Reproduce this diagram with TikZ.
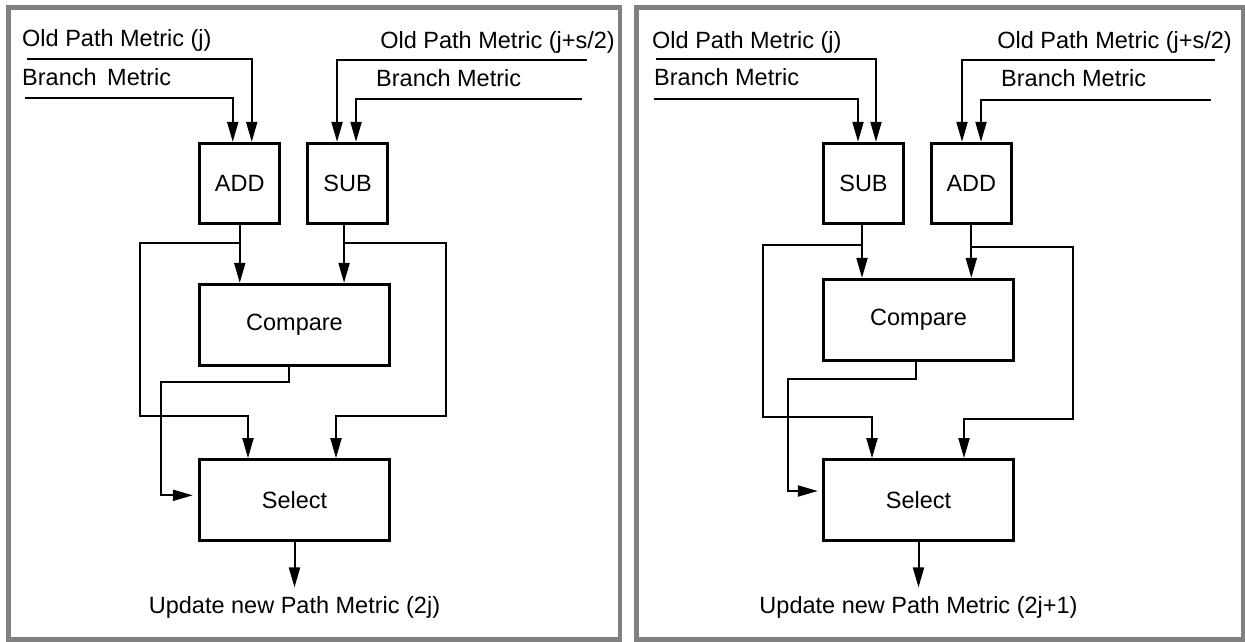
\documentclass[tikz,border=0pt]{standalone}
\usepackage{fontspec}
\setmainfont{Liberation Sans}
\usetikzlibrary{positioning,arrows.meta}
\definecolor{panelgray}{RGB}{128,128,128}

\begin{document}
\begin{tikzpicture}[
    x=1pt, y=-1pt,
    font=\fontsize{23.5}{28}\selectfont,
    box/.style={draw, line width=3.3pt, minimum width=80pt, minimum height=80pt, inner sep=0pt},
    wide/.style={box, minimum width=190pt, minimum height=81pt},
    arr/.style={-{Triangle[length=20pt, width=11pt]}, line width=2pt},
    panel/.style={draw=panelgray, line width=4.8pt},
    txt/.style={inner sep=0pt, anchor=base west},
]
\useasboundingbox (0,0) rectangle (1245,641);

% Panel frames
\draw[panel] (8.3,7.5) rectangle (620,639.5);
\draw[panel] (636.5,7.5) rectangle (1243,639.5);

% Left panel: blocks
\node[box] (addL) at (239.75,183.5) {ADD};
\node[box, right=24.5pt of addL] (subL) {SUB};
\node[wide] (cmpL) at (294.5,325) {Compare};
\node[wide, below=91pt of cmpL] (selL) {Select};
\node[inner sep=0pt, below=54pt of selL] (outL) {Update new Path Metric (2j)};

% Left panel: inputs
\node[txt] (pjL) at (22,46.5) {Old Path Metric (j)};
\node[txt] (bmL) at (22,85) {Branch\hspace{4pt} Metric};
\node[txt, anchor=base east] (psL) at (615,48) {Old Path Metric (j+s/2)};
\node[txt] (bmsL) at (376,86) {Branch Metric};
\coordinate (pjLin) at (27,59);
\coordinate (bmLin) at (24.5,98);
\coordinate (psLin) at (587,60);
\coordinate (bmsLin) at (582,99);
\draw[arr] (pjLin) -| ([xshift=12pt]addL.north);
\draw[arr] (bmLin) -| ([xshift=-7pt]addL.north);
\draw[arr] (psLin) -| ([xshift=-10.5pt]subL.north);
\draw[arr] (bmsLin) -| ([xshift=8.5pt]subL.north);

% Left panel: data paths
\coordinate (lfL) at (140,416);
\coordinate (rtL) at (446,416);
\coordinate (cbL) at (161,382);
\draw[arr] (addL.south) -- (addL.south |- cmpL.north);
\draw[arr] ([xshift=-3.5pt]subL.south) -- ([xshift=-3.5pt]subL.south |- cmpL.north);
\draw[arr] ([yshift=-18pt]addL.south) -| (lfL) -| ([xshift=-46.5pt]selL.north);
\draw[arr] ([xshift=-3.5pt, yshift=-18pt]subL.south) -| (rtL) -| ([xshift=41.5pt]selL.north);
\draw[arr, shorten >=5pt] ([xshift=-5.5pt]cmpL.south) |- (cbL) |- ([yshift=5pt]selL.west);
\draw[arr, shorten >=9pt] (selL) -- (outL);

% Right panel: blocks
\node[box] (subR) at (863.5,183.5) {SUB};
\node[box, right=24.5pt of subR] (addR) {ADD};
\node[wide] (cmpR) at (918.5,320) {Compare};
\node[wide, below=96pt of cmpR] (selR) {Select};
\node[inner sep=0pt, below=54pt of selR] (outR) {Update new Path Metric (2j+1)};

% Right panel: inputs
\node[txt] (pjR) at (652,48) {Old Path Metric (j)};
\node[txt] (bmR) at (654,85) {Branch Metric};
\node[txt, anchor=base east] (psR) at (1232,48) {Old Path Metric (j+s/2)};
\node[txt] (bmsR) at (1001,86) {Branch Metric};
\coordinate (pjRin) at (656,59);
\coordinate (bmRin) at (654,99);
\coordinate (psRin) at (1215,60);
\coordinate (bmsRin) at (1211,100);
\draw[arr] (pjRin) -| ([xshift=12.5pt]subR.north);
\draw[arr] (bmRin) -| ([xshift=-5.5pt]subR.north);
\draw[arr] (psRin) -| ([xshift=-9.3pt]addR.north);
\draw[arr] (bmsRin) -| ([xshift=9.7pt]addR.north);

% Right panel: data paths
\coordinate (lfR) at (763,417);
\coordinate (rtR) at (1073,419);
\coordinate (cbR) at (788,379);
\draw[arr] ([xshift=-1.5pt]subR.south) -- ([xshift=-1.5pt]subR.south |- cmpR.north);
\draw[arr] (addR.south) -- (addR.south |- cmpR.north);
\draw[arr] ([xshift=-1.5pt, yshift=-20pt]subR.south) -| (lfR) -| ([xshift=-46.5pt]selR.north);
\draw[arr] ([yshift=-22pt]addR.south) -| (rtR) -| ([xshift=45.5pt]selR.north);
\draw[arr, shorten >=4pt] ([xshift=-2.5pt]cmpR.south) |- (cbR) |- ([yshift=9.3pt]selR.west);
\draw[arr, shorten >=9pt] (selR) -- (outR);

\end{tikzpicture}
\end{document}
